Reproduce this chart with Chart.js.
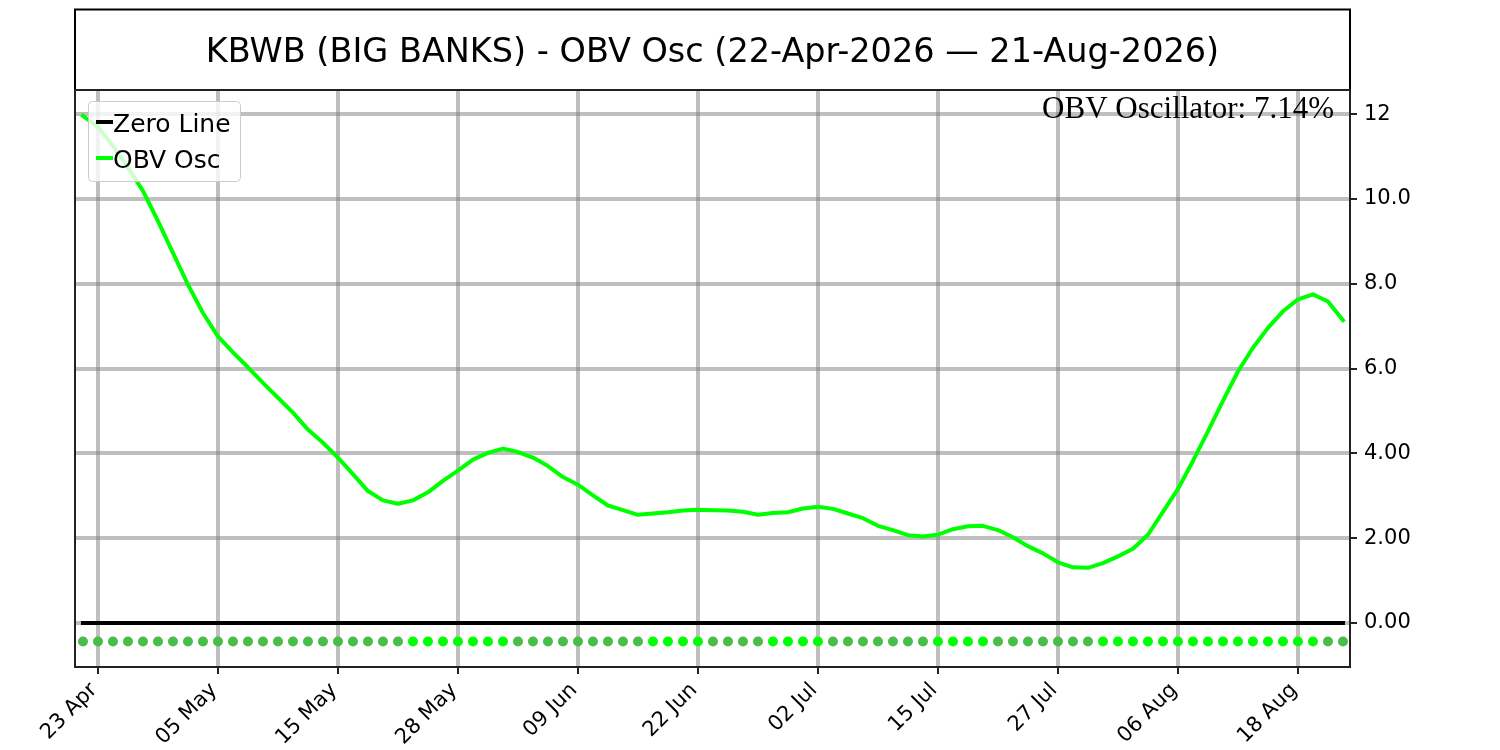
<!DOCTYPE html>
<html>
<head>
<meta charset="utf-8">
<title>KBWB OBV Osc</title>
<script src="https://cdn.jsdelivr.net/npm/chart.js@4.4.0/dist/chart.umd.min.js"></script>
<style>
  html, body { margin: 0; padding: 0; background: #fff; }
  #wrap { width: 1500px; height: 750px; }
</style>
</head>
<body>
<div id="wrap"><canvas id="chart" width="1500" height="750"></canvas></div>
<script>
const chartTitle = 'KBWB (BIG BANKS) - OBV Osc (22-Apr-2026 \u2014 21-Aug-2026)';
const annotationText = 'OBV Oscillator: 7.14%';

// trading-day index of each date tick, and its label
const tickPositions = [1, 9, 17, 25, 33, 41, 49, 57, 65, 73, 81];
const tickLabels = ['23 Apr', '05 May', '15 May', '28 May', '09 Jun', '22 Jun',
                    '02 Jul', '15 Jul', '27 Jul', '06 Aug', '18 Aug'];

const yTickValues = [0, 2, 4, 6, 8, 10, 12];
const yTickLabels = ['0.00', '2.00', '4.00', '6.0', '8.0', '10.0', '12'];

// OBV oscillator, one value per trading day 22-Apr .. 21-Aug
const obvOsc = [
    11.96, 11.70, 11.25, 10.74, 10.19, 9.48, 8.73, 7.98, 7.31, 6.76,
    6.38, 6.03, 5.66, 5.31, 4.96, 4.56, 4.25, 3.90, 3.51, 3.11,
    2.89, 2.81, 2.89, 3.08, 3.35, 3.59, 3.85, 4.01, 4.11, 4.03,
    3.90, 3.70, 3.44, 3.26, 3.01, 2.77, 2.66, 2.55, 2.58, 2.61,
    2.65, 2.67, 2.66, 2.65, 2.62, 2.55, 2.59, 2.61, 2.70, 2.74,
    2.69, 2.58, 2.47, 2.29, 2.19, 2.07, 2.04, 2.08, 2.21, 2.28,
    2.29, 2.19, 2.02, 1.81, 1.64, 1.43, 1.31, 1.30, 1.41, 1.57,
    1.75, 2.08, 2.62, 3.16, 3.82, 4.52, 5.24, 5.93, 6.49, 6.96,
    7.35, 7.63, 7.75, 7.58, 7.14
];
const zeroLevel = 0;
const markerLevel = -0.44;

const lineGreen = '#00ff00';
const mutedGreen = 'rgb(72, 190, 72)';
const gridGray = 'rgba(128, 128, 128, 0.5)';
const spineColor = '#222';

function markerColors(values){
    // bright dot when the oscillator rose from the previous day
    return values.map((v, i) => (i > 0 && v > values[i - 1]) ? lineGreen : mutedGreen);
}

const frameAndText = {
    id: 'frameAndText',
    afterDraw(chart){
        const ctx = chart.ctx;
        const area = chart.chartArea;
        ctx.save();

        // title box
        ctx.strokeStyle = '#000';
        ctx.lineWidth = 2;
        ctx.strokeRect(area.left, 9.5, area.right - area.left, area.top - 9.5);
        ctx.fillStyle = '#000';
        ctx.font = '33.5px "DejaVu Sans"';
        ctx.textAlign = 'center';
        ctx.textBaseline = 'alphabetic';
        ctx.fillText(chartTitle, (area.left + area.right) / 2, 61.5);

        // plot spines
        ctx.strokeStyle = spineColor;
        ctx.strokeRect(area.left, area.top, area.right - area.left, area.bottom - area.top);

        // value note, top right
        ctx.fillStyle = '#000';
        ctx.font = '31px "Liberation Serif"';
        ctx.textAlign = 'right';
        ctx.fillText(annotationText, area.right - 16, 118);

        // legend
        const items = chart.data.datasets.filter(d => d.inLegend);
        const boxX = area.left + 13, boxY = area.top + 11;
        ctx.beginPath();
        ctx.roundRect(boxX + 0.5, boxY + 0.5, 152, 80, 4);
        ctx.fillStyle = 'rgba(255, 255, 255, 0.8)';
        ctx.fill();
        ctx.strokeStyle = '#cccccc';
        ctx.lineWidth = 1;
        ctx.stroke();
        ctx.font = '25px "DejaVu Sans"';
        ctx.textAlign = 'left';
        items.forEach((d, i) => {
            const midY = boxY + 21 + i * 36;
            ctx.strokeStyle = d.borderColor;
            ctx.lineWidth = 4;
            ctx.beginPath();
            ctx.moveTo(boxX + 8, midY);
            ctx.lineTo(boxX + 25, midY);
            ctx.stroke();
            ctx.fillStyle = '#000';
            ctx.fillText(d.label, boxX + 25, midY + 9.5);
        });
        ctx.restore();
    }
};

function initializeObvChart(element){
    const lastIndex = obvOsc.length - 1;
    return new Chart(element, {
        type: 'line',
        data: {
            datasets: [{
                label: 'Zero Line',
                inLegend: true,
                data: [{x: 0, y: zeroLevel}, {x: lastIndex, y: zeroLevel}],
                borderColor: '#000',
                borderWidth: 4,
                borderCapStyle: 'square',
                pointRadius: 0,
                fill: false,
                order: 3
            }, {
                label: 'OBV Osc',
                inLegend: true,
                data: obvOsc.map((v, i) => ({x: i, y: v})),
                borderColor: lineGreen,
                borderWidth: 4,
                borderCapStyle: 'square',
                borderJoinStyle: 'round',
                tension: 0,
                pointRadius: 0,
                fill: false,
                order: 2
            }, {
                label: 'Direction',
                inLegend: false,
                data: obvOsc.map((v, i) => ({x: i, y: markerLevel})),
                showLine: false,
                pointRadius: 5,
                pointBorderWidth: 0,
                pointBackgroundColor: markerColors(obvOsc),
                order: 1
            }]
        },
        options: {
            responsive: false,
            animation: false,
            devicePixelRatio: 1,
            layout: {padding: {left: 75, top: 90, right: 0, bottom: 0}},
            plugins: {
                legend: {display: false},
                tooltip: {enabled: false},
                title: {display: false}
            },
            scales: {
                x: {
                    type: 'linear',
                    position: 'bottom',
                    min: -0.53,
                    max: 84.47,
                    afterBuildTicks: s => { s.ticks = tickPositions.map(v => ({value: v})); },
                    afterFit: s => { s.height = 83; s.paddingLeft = 0; s.paddingRight = 0; },
                    ticks: {
                        autoSkip: false,
                        minRotation: 45,
                        maxRotation: 45,
                        padding: 4,
                        labelOffset: -4,
                        color: '#000',
                        font: {family: 'DejaVu Sans', size: 21},
                        callback: (value, index) => tickLabels[index]
                    },
                    grid: {color: gridGray, lineWidth: 4, tickColor: spineColor, tickWidth: 2, tickLength: 7},
                    border: {display: false}
                },
                y: {
                    type: 'linear',
                    position: 'right',
                    min: -1.04,
                    max: 12.57,
                    afterBuildTicks: s => { s.ticks = yTickValues.map(v => ({value: v})); },
                    afterFit: s => { s.width = 150; s.paddingTop = 0; s.paddingBottom = 0; },
                    ticks: {
                        padding: 7,
                        color: '#000',
                        font: {family: 'DejaVu Sans', size: 21},
                        callback: (value, index) => yTickLabels[index]
                    },
                    grid: {color: gridGray, lineWidth: 4, tickColor: spineColor, tickWidth: 2, tickLength: 7},
                    border: {display: false}
                }
            }
        },
        plugins: [frameAndText]
    });
}

initializeObvChart(document.getElementById('chart'));
</script>
</body>
</html>
